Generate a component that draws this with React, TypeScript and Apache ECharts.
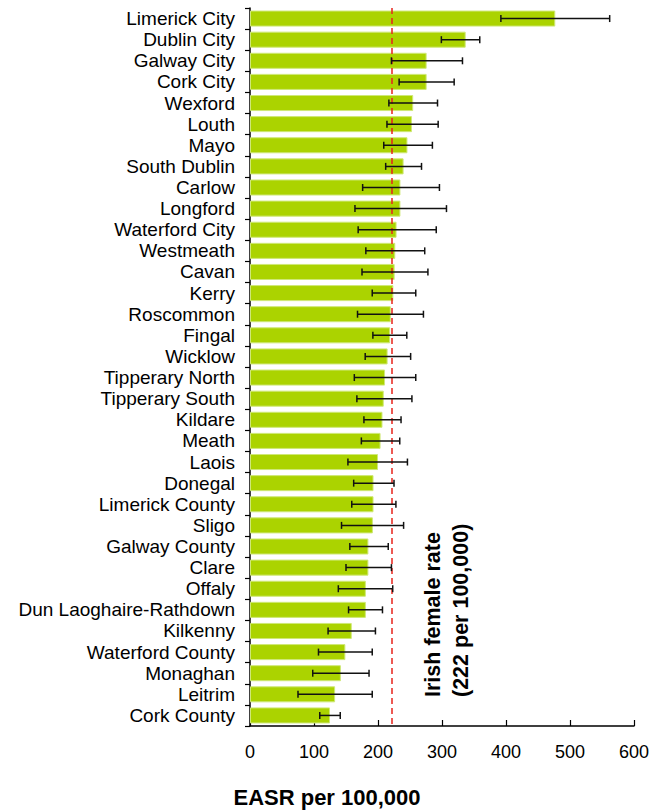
import React, { useEffect, useRef } from "react";
import * as echarts from "echarts";

const categories = [
  "Limerick City", "Dublin City", "Galway City", "Cork City", "Wexford", "Louth", "Mayo",
  "South Dublin", "Carlow", "Longford", "Waterford City", "Westmeath", "Cavan", "Kerry",
  "Roscommon", "Fingal", "Wicklow", "Tipperary North", "Tipperary South", "Kildare", "Meath",
  "Laois", "Donegal", "Limerick County", "Sligo", "Galway County", "Clare", "Offaly",
  "Dun Laoghaire-Rathdown", "Kilkenny", "Waterford County", "Monaghan", "Leitrim", "Cork County",
];
const rates = [
  477, 337, 276, 276, 255, 253, 246, 240, 235, 235, 229, 227, 226, 224, 220, 219, 215, 211,
  209, 207, 204, 200, 193, 193, 192, 185, 185, 181, 181, 159, 149, 142, 133, 125,
];
const lower = [
  392, 299, 221, 233, 217, 214, 209, 212, 176, 164, 169, 181, 175, 191, 168, 192, 180, 163,
  167, 178, 174, 153, 162, 159, 143, 156, 150, 138, 154, 122, 107, 98, 75, 109,
];
const upper = [
  562, 359, 332, 319, 293, 294, 285, 268, 296, 307, 291, 273, 278, 259, 271, 245, 251, 259,
  253, 236, 234, 246, 225, 228, 240, 216, 221, 223, 207, 196, 191, 186, 191, 141,
];
const nationalRate = 222;
const xTicks = [0, 100, 200, 300, 400, 500, 600];

export default function App() {
  const ref = useRef<HTMLDivElement>(null);
  useEffect(() => {
    document.body.style.margin = "0";
    if (!ref.current) return;
    const chart = echarts.init(ref.current, undefined, { renderer: "svg" });
    const font = "Arial, 'Liberation Sans', sans-serif";
    chart.setOption({
      animation: false,
      textStyle: { fontFamily: font },
      grid: { left: 250, right: 29, top: 8, bottom: 86, containLabel: false },
      xAxis: {
        type: "value",
        min: xTicks[0],
        max: xTicks[xTicks.length - 1],
        interval: 100,
        axisLine: { show: true, lineStyle: { color: "#000", width: 1.5 } },
        axisTick: { show: true, inside: true, length: 6, lineStyle: { color: "#000", width: 1.2 } },
        axisLabel: { color: "#000", fontSize: 18, margin: 17, fontFamily: font },
        splitLine: { show: false },
      },
      yAxis: {
        type: "category",
        data: categories,
        inverse: true,
        axisLine: { show: true, lineStyle: { color: "#000", width: 1.5 } },
        axisTick: { show: true, length: 5, lineStyle: { color: "#000", width: 1.2 } },
        axisLabel: { color: "#000", fontSize: 19, margin: 15, fontFamily: font, interval: 0 },
      },
      series: [
        {
          type: "bar",
          data: rates,
          barCategoryGap: "24%",
          itemStyle: { color: "#abd300", borderColor: "#cfe877", borderWidth: 1 },
          markLine: {
            silent: true,
            symbol: "none",
            label: { show: false },
            lineStyle: { color: "#e8231b", type: [6, 4], width: 1.5 },
            data: [{ xAxis: nationalRate }],
          },
          z: 2,
        },
        {
          type: "custom",
          data: categories.map((_, i) => [lower[i], upper[i], i]),
          encode: { x: [0, 1], y: 2 },
          z: 5,
          renderItem: (params: any, api: any) => {
            const idx = api.value(2);
            const p1 = api.coord([api.value(0), idx]);
            const p2 = api.coord([api.value(1), idx]);
            const h = 3.5;
            const style = { stroke: "#111", lineWidth: 1.5 };
            return {
              type: "group",
              children: [
                { type: "line", shape: { x1: p1[0], y1: p1[1], x2: p2[0], y2: p2[1] }, style },
                { type: "line", shape: { x1: p1[0], y1: p1[1] - h, x2: p1[0], y2: p1[1] + h }, style },
                { type: "line", shape: { x1: p2[0], y1: p2[1] - h, x2: p2[0], y2: p2[1] + h }, style },
              ],
            };
          },
        },
      ],
      graphic: [
        {
          type: "text",
          x: 447,
          y: 697,
          rotation: Math.PI / 2,
          style: {
            text: "Irish female rate\n(222 per 100,000)",
            font: `bold 21.5px ${font}`,
            fill: "#000",
            align: "left",
            verticalAlign: "middle",
            lineHeight: 28,
          },
        },
        {
          type: "text",
          x: 327,
          y: 797,
          style: {
            text: "EASR per 100,000",
            font: `bold 22px ${font}`,
            fill: "#000",
            align: "center",
            verticalAlign: "middle",
          },
        },
      ],
    });
    return () => chart.dispose();
  }, []);
  return <div ref={ref} style={{ width: 663, height: 812 }} />;
}
